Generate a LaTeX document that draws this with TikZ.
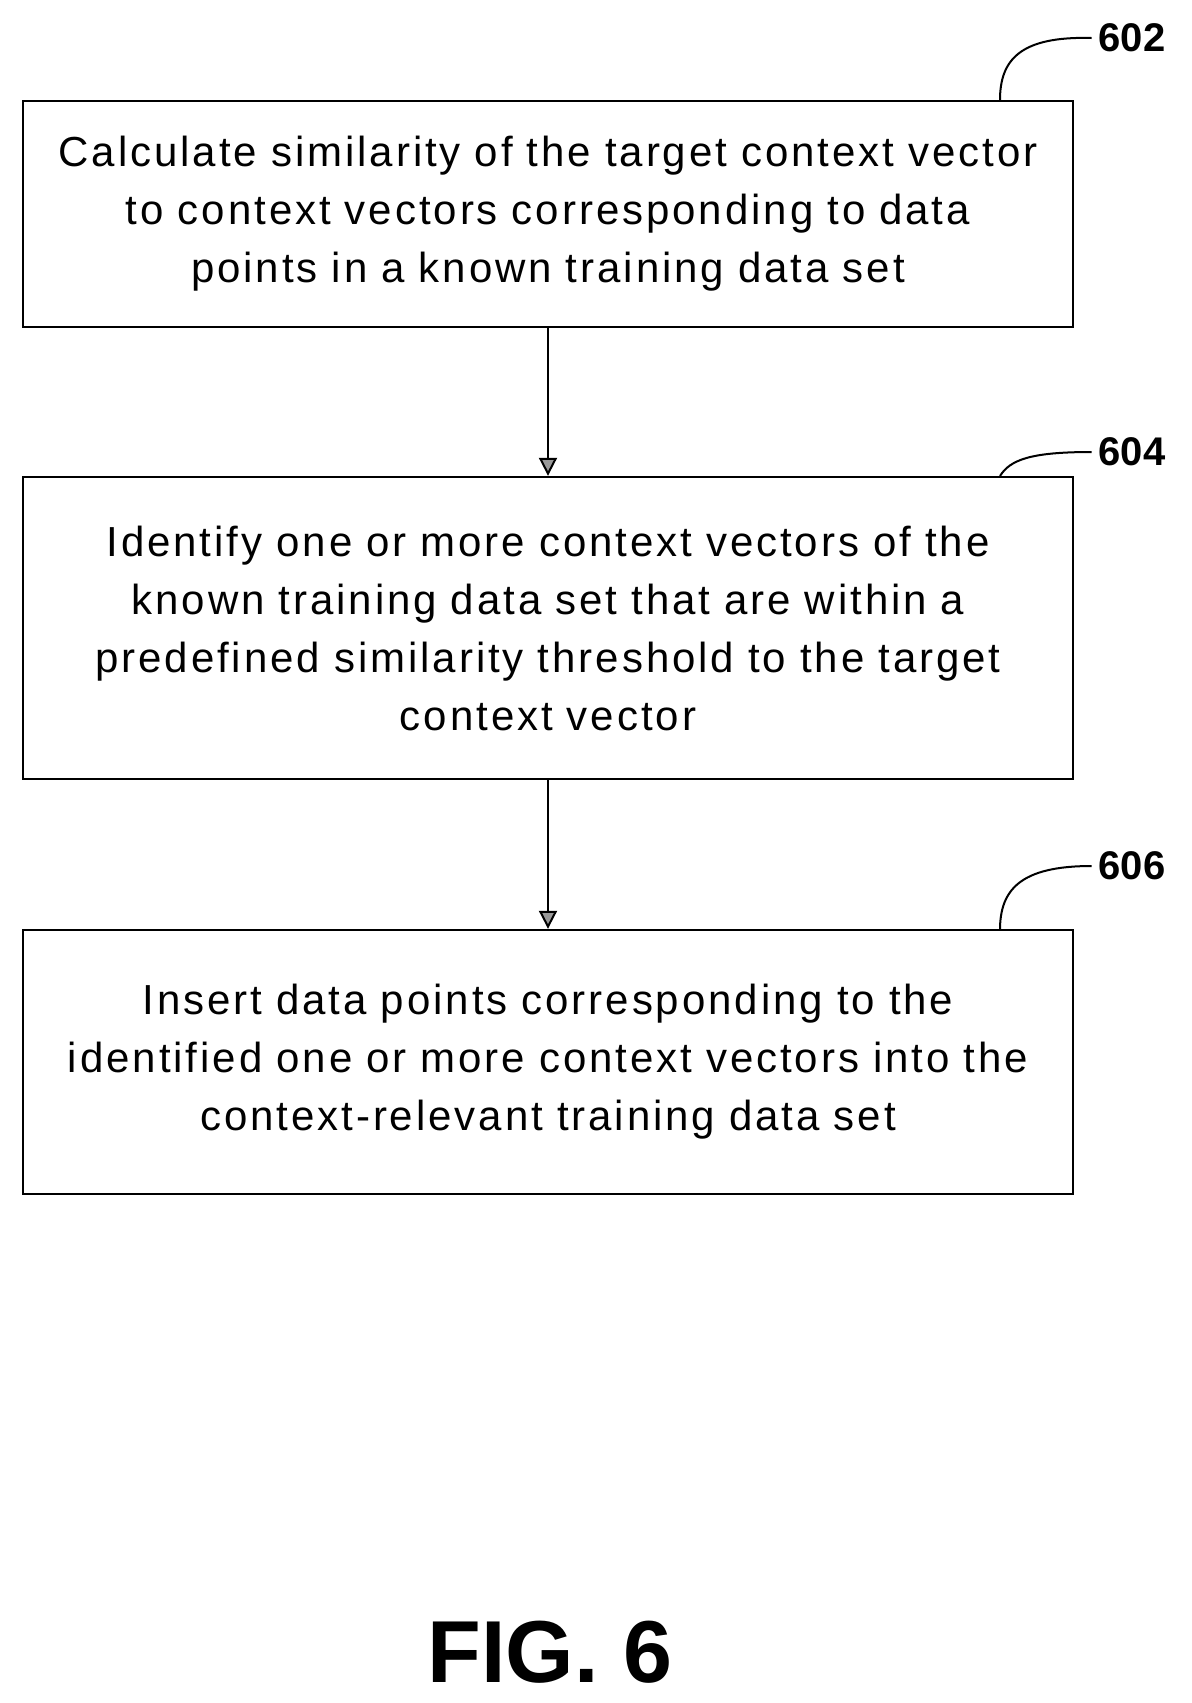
\documentclass[tikz,border=0pt]{standalone}
\usepackage{fontspec}
\setmainfont{Liberation Sans}
\newfontfamily\spacedsans[LetterSpace=7]{Liberation Sans}
\usetikzlibrary{positioning,arrows.meta}
\tikzset{
  stepbox/.style={draw,line width=1.2pt,minimum width=525pt,text width=520pt,align=center,
    font=\spacedsans\fontsize{21}{29}\selectfont,inner sep=0pt},
  flow/.style={line width=1pt,-{Triangle[length=9pt,width=9pt,open,fill=black!40]}},
  lead/.style={line width=1pt},
  ref/.style={font=\bfseries\fontsize{20}{24}\selectfont}
}
\begin{document}
\begin{tikzpicture}[x=1pt,y=1pt]
\useasboundingbox (0,0) rectangle (596,-851.5);
% boxes
\node[stepbox,minimum height=113pt] (s602) at (274,-107) {Calculate similarity of the target context vector\\ to context vectors corresponding to data\\ points in a known training data set};
\node[stepbox,minimum height=151pt] (s604) at (274,-314) {Identify one or more context vectors of the\\ known training data set that are within a\\ predefined similarity threshold to the target\\ context vector};
\node[stepbox,minimum height=132pt] (s606) at (274,-531) {Insert data points corresponding to the\\ identified one or more context vectors into the\\ context-relevant training data set};
% arrows
\draw[flow] (s602) -- (s604);
\draw[flow] (s604) -- (s606);
% reference numerals
\node[ref] (n602) at (566,-19) {602};
\node[ref] (n604) at (566,-226) {604};
\node[ref] (n606) at (566,-433) {606};
\draw[lead] (500,-50) .. controls (500,-30) and (510,-18) .. (n602.west);
\draw[lead] (500,-238) .. controls (505,-230) and (515,-226) .. (n604.west);
\draw[lead] (500,-465) .. controls (500,-445) and (510,-433) .. (n606.west);
% caption
\node[font=\bfseries\fontsize{44}{50}\selectfont] (fig) at (275,-826) {FIG. 6};
\end{tikzpicture}
\end{document}
